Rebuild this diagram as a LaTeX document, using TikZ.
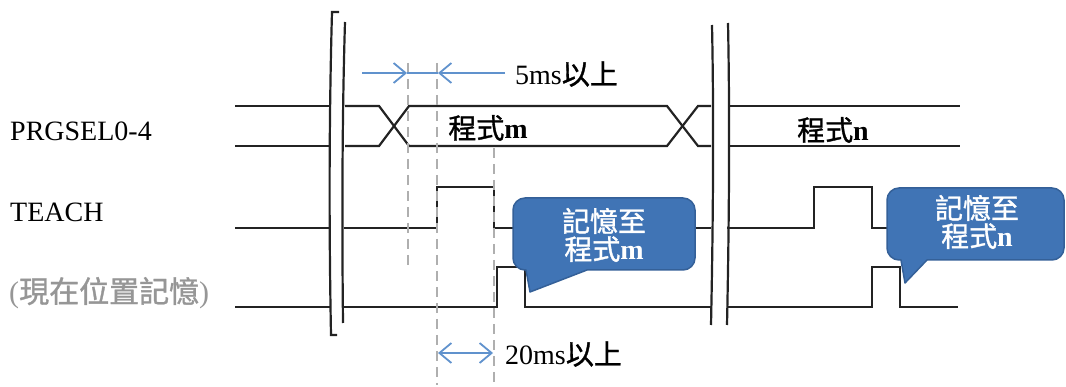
\documentclass[tikz,border=0pt]{standalone}
\usepackage{fontspec}
\setmainfont{Liberation Serif}
\newfontfamily\cjk[FakeBold=1.2]{Noto Sans CJK TC}
\usetikzlibrary{arrows.meta}
\definecolor{sig}{RGB}{35,35,35}
\definecolor{dashgray}{RGB}{175,175,175}
\definecolor{dimblue}{RGB}{96,146,205}
\definecolor{bubfill}{RGB}{64,116,181}
\definecolor{bubedge}{RGB}{52,96,152}
\definecolor{labgray}{RGB}{150,150,150}
\tikzset{
  wave/.style={draw=sig, line width=2.2pt, line join=miter},
  brk/.style={draw=sig, line width=2.2pt},
  guide/.style={draw=dashgray, line width=2.6pt, dash pattern=on 10pt off 6pt},
  dim/.style={draw=dimblue, line width=1.8pt},
  dimhead/.style={-{Straight Barb[length=12pt,width=20pt,line width=1.8pt]}},
  bubble/.style={fill=bubfill, draw=bubedge, line width=1.5pt, line join=round},
  lab/.style={font=\fontsize{28}{30}\selectfont, inner sep=0pt},
  bubtxt/.style={font=\fontsize{28}{28}\selectfont, text=white, align=center, inner sep=0pt}
}
\begin{document}
\begin{tikzpicture}[x=1pt,y=-1pt]
\useasboundingbox (0,0) rectangle (1066,387);

% signal labels
\node[lab, anchor=west] (lprg) at (10,131) {PRGSEL0-4};
\node[lab, anchor=west] (lteach) at (10,212) {TEACH};
\node[lab, anchor=west, text=labgray, font=\fontsize{30}{32}\selectfont] (lmem) at (9,293) {({\cjk 現在位置記憶})};

% PRGSEL bus
\draw[wave] (235,106) -- (331,106);
\draw[wave] (235,146) -- (331,146);
\draw[wave] (345,106) -- (379,106) -- (409,146) -- (667,146) -- (698,106) -- (711,106);
\draw[wave] (345,146) -- (379,146) -- (409,106) -- (667,106) -- (698,146) -- (711,146);
\draw[wave] (728,106) -- (960,106);
\draw[wave] (728,146) -- (960,146);

% TEACH
\draw[wave] (235,228) -- (331,228);
\draw[wave] (344,228) -- (437,228) -- (437,187) -- (494,187) -- (494,228) -- (711,228);
\draw[wave] (727,228) -- (814,228) -- (814,187) -- (872,187) -- (872,228) -- (892,228);

% memory signal
\draw[wave] (235,307) -- (331,307);
\draw[wave] (344,307) -- (497,307) -- (497,267) -- (525,267) -- (525,307) -- (711,307);
\draw[wave] (727,307) -- (872,307) -- (872,267) -- (900,267) -- (900,307) -- (958,307);

% dashed guides
\coordinate (g1t) at (408,63);  \coordinate (g1b) at (408,268);
\coordinate (g2t) at (437,63);  \coordinate (g2b) at (437,385);
\coordinate (g3t) at (494,148); \coordinate (g3b) at (494,385);
\draw[guide] (g1t) -- (g1b);
\draw[guide] (g2t) -- (g2b);
\draw[guide] (g3t) -- (g3b);

% break marks
\draw[brk] (339,12) -- (332,12) .. controls (329,120) and (329,230) .. (331,335) -- (337,335);
\draw[brk] (345,22) .. controls (342,120) and (342,230) .. (343,323);
\draw[brk] (712,25) .. controls (714,120) and (713,230) .. (711,325);
\draw[brk] (728,23) .. controls (730,120) and (729,230) .. (727,325);

% 5 ms dimension
\coordinate (a1s) at (362,73); \coordinate (a1e) at (407,73);
\coordinate (a2s) at (505,73); \coordinate (a2e) at (438,73);
\draw[dim, dimhead] (a1s) -- (a1e);
\draw[dim, dimhead] (a2s) -- (a2e);
\draw[dim, line width=1.3pt] (a1e) -- (a2e);
\node[lab, anchor=west] (t5) at (515,74) {5ms{\cjk 以上}};

% 20 ms dimension
\coordinate (b1) at (438,353); \coordinate (b2) at (493,353);
\draw[dim, {Straight Barb[length=12pt,width=20pt,line width=1.8pt]}-{Straight Barb[length=12pt,width=20pt,line width=1.8pt]}] (b1) -- (b2);
\node[lab, anchor=west] (t20) at (505,354) {20ms{\cjk 以上}};

% program labels
\node[lab] (pm) at (488,128) {{\cjk 程式}\textbf{m}};
\node[lab] (pn) at (833,130) {{\cjk 程式}\textbf{n}};

% bubble m
\draw[bubble] (525,198) -- (683,198) arc[start angle=-90,end angle=0,radius=12]
  -- (695,258) arc[start angle=0,end angle=90,radius=12]
  -- (587,270) -- (530,292) -- (526,270) -- (525,270)
  arc[start angle=90,end angle=180,radius=12]
  -- (513,210) arc[start angle=180,end angle=270,radius=12] -- cycle;
\node[bubtxt] (bm) at (604,235) {{\cjk 記憶至}\\{\cjk 程式}\textbf{m}};

% bubble n
\draw[bubble] (899,188) -- (1052,188) arc[start angle=-90,end angle=0,radius=12]
  -- (1064,248) arc[start angle=0,end angle=90,radius=12]
  -- (927,260) -- (905,283) -- (901,260) -- (899,260)
  arc[start angle=90,end angle=180,radius=12]
  -- (887,200) arc[start angle=180,end angle=270,radius=12] -- cycle;
\node[bubtxt] (bn) at (977,222) {{\cjk 記憶至}\\{\cjk 程式}\textbf{n}};
\end{tikzpicture}
\end{document}
